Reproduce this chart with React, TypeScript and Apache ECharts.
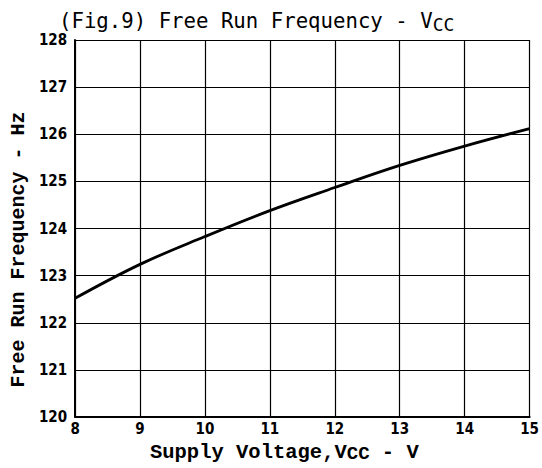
import React, { useEffect, useRef } from "react";
import * as echarts from "echarts";

const voltages = [8, 9, 10, 11, 12, 13, 14, 15];
const frequencies = [122.52, 123.24, 123.83, 124.38, 124.87, 125.34, 125.75, 126.12];
const xTicks = { min: 8, max: 15, interval: 1 };
const yTicks = { min: 120, max: 128, interval: 1 };

const TICK_FONT = "'Liberation Sans Narrow', 'DejaVu Sans Condensed', sans-serif";
const NAME_FONT = "'Liberation Mono', 'Courier New', monospace";
const TITLE_FONT = "'DejaVu Sans Mono', monospace";

export default function App() {
  const ref = useRef<HTMLDivElement>(null);
  useEffect(() => {
    if (!ref.current) return;
    const chart = echarts.init(ref.current, undefined, { renderer: "svg" });
    chart.setOption({
      animation: false,
      backgroundColor: "#ffffff",
      title: {
        text: "(Fig.9) Free Run Frequency - V{sub|CC}",
        left: 54,
        top: 4,
        textStyle: {
          fontFamily: TITLE_FONT,
          fontSize: 20.7,
          fontWeight: "normal",
          color: "#000",
          lineHeight: 24,
          rich: {
            sub: {
              fontFamily: TITLE_FONT,
              fontSize: 18,
              color: "#000",
              verticalAlign: "bottom",
              lineHeight: 6,
            },
          },
        },
      },
      grid: { left: 62, right: 9, top: 40, bottom: 42, show: false },
      xAxis: {
        type: "value",
        min: xTicks.min,
        max: xTicks.max,
        interval: xTicks.interval,
        name: "Supply Voltage,V{sub|CC} - V",
        nameLocation: "middle",
        nameGap: 9,
        nameTextStyle: {
          fontFamily: NAME_FONT,
          fontWeight: "bold",
          fontSize: 20.5,
          color: "#000",
          lineHeight: 22,
          padding: [0, 36, 0, 0],
          rich: {
            sub: {
              fontFamily: NAME_FONT,
              fontWeight: "bold",
              fontSize: 19,
              color: "#000",
              verticalAlign: "bottom",
              lineHeight: 4,
            },
          },
        },
        axisLine: { show: true, onZero: false, lineStyle: { color: "#000", width: 2 } },
        axisTick: { show: false },
        axisLabel: {
          fontFamily: TICK_FONT,
          fontWeight: "bold",
          fontSize: 15,
          color: "#000",
          margin: 4,
        },
        splitLine: { show: true, lineStyle: { color: "#000", width: 1.2 } },
      },
      yAxis: {
        type: "value",
        min: yTicks.min,
        max: yTicks.max,
        interval: yTicks.interval,
        name: "Free Run Frequency - Hz",
        nameLocation: "middle",
        nameGap: 37,
        nameTextStyle: {
          fontFamily: NAME_FONT,
          fontWeight: "bold",
          fontSize: 20,
          color: "#000",
          padding: [0, 42, 0, 0],
        },
        axisLine: { show: true, onZero: false, lineStyle: { color: "#000", width: 2 } },
        axisTick: { show: false },
        axisLabel: {
          fontFamily: TICK_FONT,
          fontWeight: "bold",
          fontSize: 15,
          color: "#000",
          margin: 8,
        },
        splitLine: { show: true, lineStyle: { color: "#000", width: 1.2 } },
      },
      series: [
        {
          type: "line",
          data: voltages.map((v, i) => [v, frequencies[i]]),
          smooth: 0.4,
          symbol: "none",
          lineStyle: { color: "#000", width: 2.8 },
        },
      ],
    });
    return () => chart.dispose();
  }, []);
  return (
    <div
      ref={ref}
      style={{ position: "fixed", left: 0, top: 0, width: 542, height: 468, background: "#fff" }}
    />
  );
}
